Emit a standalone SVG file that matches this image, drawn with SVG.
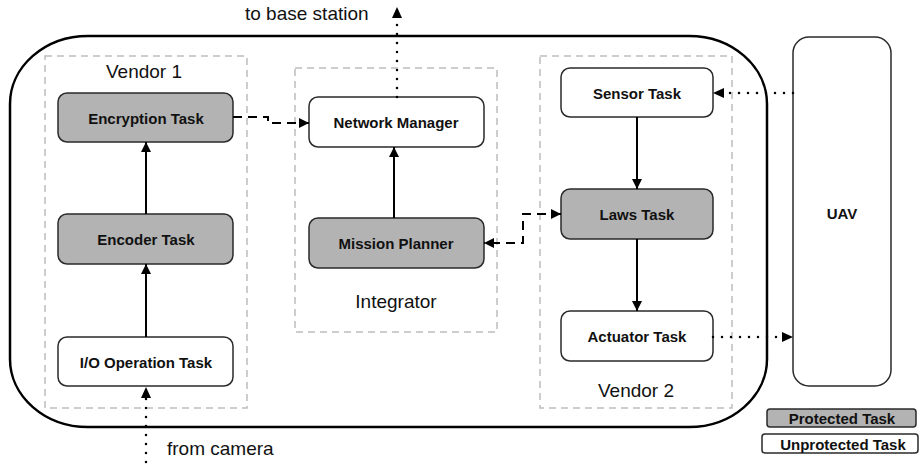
<svg xmlns="http://www.w3.org/2000/svg" width="920" height="464" viewBox="0 0 920 464">
  <defs>
    <marker id="arrow" viewBox="0 0 10 10" refX="10" refY="5" markerWidth="11" markerHeight="10" markerUnits="userSpaceOnUse" orient="auto">
      <path d="M0,0 L10,5 L0,10 Z" fill="#000"/>
    </marker>
    <marker id="arrowStart" viewBox="0 0 10 10" refX="0" refY="5" markerWidth="11" markerHeight="10" markerUnits="userSpaceOnUse" orient="auto">
      <path d="M10,0 L0,5 L10,10 Z" fill="#000"/>
    </marker>
  </defs>
  <style>
    .bg { fill: #fff; }
    .system { fill: none; stroke: #000; stroke-width: 2.5; }
    .group { fill: none; stroke: #bdbdbd; stroke-width: 1.5; stroke-dasharray: 7 5; }
    .task { stroke: #2a2a2a; stroke-width: 1.5; }
    .prot { fill: #b3b3b3; }
    .unprot { fill: #fff; }
    .label { font-family: "Liberation Sans", Arial, sans-serif; font-size: 15px; font-weight: bold; fill: #111; text-anchor: middle; dominant-baseline: central; }
    .caption { font-family: "Liberation Sans", Arial, sans-serif; font-size: 19px; fill: #111; }
    .solid { fill: none; stroke: #000; stroke-width: 2; }
    .dashed { fill: none; stroke: #000; stroke-width: 2; stroke-dasharray: 9 6; }
    .dotted { fill: none; stroke: #000; stroke-width: 2.5; stroke-dasharray: 0 9; stroke-linecap: round; }
  </style>

  <rect class="bg" x="0" y="0" width="920" height="464"/>

  <!-- enclosing system boundary -->
  <rect id="system" class="system" x="10" y="36" width="757" height="391" rx="78" ry="68"/>

  <!-- ownership groups -->
  <g id="vendor1">
    <rect class="group" x="45" y="56" width="202" height="352"/>
    <text class="caption" x="144" y="78" text-anchor="middle">Vendor 1</text>
  </g>
  <g id="integrator">
    <rect class="group" x="295" y="68" width="202" height="264"/>
    <text class="caption" x="396" y="308" text-anchor="middle">Integrator</text>
  </g>
  <g id="vendor2">
    <rect class="group" x="540" y="56" width="192" height="352"/>
    <text class="caption" x="636" y="397" text-anchor="middle">Vendor 2</text>
  </g>

  <!-- tasks -->
  <g id="encryption-task">
    <rect class="task prot" x="58" y="93" width="175" height="49" rx="9"/>
    <text class="label" x="146" y="118">Encryption Task</text>
  </g>
  <g id="encoder-task">
    <rect class="task prot" x="58" y="214" width="175" height="50" rx="9"/>
    <text class="label" x="146" y="239">Encoder Task</text>
  </g>
  <g id="io-task">
    <rect class="task unprot" x="58" y="337" width="175" height="49" rx="9"/>
    <text class="label" x="146" y="362">I/O Operation Task</text>
  </g>
  <g id="network-manager">
    <rect class="task unprot" x="309" y="97" width="175" height="50" rx="9"/>
    <text class="label" x="396" y="122">Network Manager</text>
  </g>
  <g id="mission-planner">
    <rect class="task prot" x="309" y="218" width="175" height="50" rx="9"/>
    <text class="label" x="396" y="243">Mission Planner</text>
  </g>
  <g id="sensor-task">
    <rect class="task unprot" x="561" y="68" width="152" height="49" rx="9"/>
    <text class="label" x="637" y="93">Sensor Task</text>
  </g>
  <g id="laws-task">
    <rect class="task prot" x="561" y="189" width="152" height="50" rx="9"/>
    <text class="label" x="637" y="214">Laws Task</text>
  </g>
  <g id="actuator-task">
    <rect class="task unprot" x="561" y="311" width="152" height="50" rx="9"/>
    <text class="label" x="637" y="336">Actuator Task</text>
  </g>

  <!-- vehicle -->
  <g id="uav">
    <rect class="task unprot" x="793" y="37" width="98" height="349" rx="16"/>
    <text class="label" x="842" y="213">UAV</text>
  </g>

  <!-- legend -->
  <g id="legend">
    <rect class="task prot" x="767" y="409" width="149" height="18" rx="3"/>
    <text class="label" x="842" y="418.5">Protected Task</text>
    <rect class="task unprot" x="762" y="434" width="156" height="19" rx="3"/>
    <text class="label" x="843" y="444">Unprotected Task</text>
  </g>

  <!-- connectors -->
  <g id="connectors">
    <path class="solid" d="M146,337 V264" marker-end="url(#arrow)"/>
    <path class="solid" d="M146,214 V142" marker-end="url(#arrow)"/>
    <path class="solid" d="M394,218 V147" marker-end="url(#arrow)"/>
    <path class="solid" d="M637,117 V189" marker-end="url(#arrow)"/>
    <path class="solid" d="M637,239 V311" marker-end="url(#arrow)"/>
    <path class="dashed" d="M233,117 H268 V123 H309" marker-end="url(#arrow)"/>
    <path class="dashed" d="M561,214 H523 V243 H484" marker-start="url(#arrowStart)" marker-end="url(#arrow)"/>
    <path class="dotted" d="M397,97 V18"/>
    <path d="M392,18 L397,7 L402,18 Z" fill="#000"/>
    <path class="dotted" d="M146,462 V398"/>
    <path d="M141,398 L146,387 L151,398 Z" fill="#000"/>
    <path class="dotted" d="M793,93 H724"/>
    <path d="M724,88 L713,93 L724,98 Z" fill="#000"/>
    <path class="dotted" d="M713,337 H782"/>
    <path d="M782,332 L793,337 L782,342 Z" fill="#000"/>
  </g>

  <text class="caption" x="245" y="20">to base station</text>
  <text class="caption" x="167" y="455">from camera</text>
</svg>
